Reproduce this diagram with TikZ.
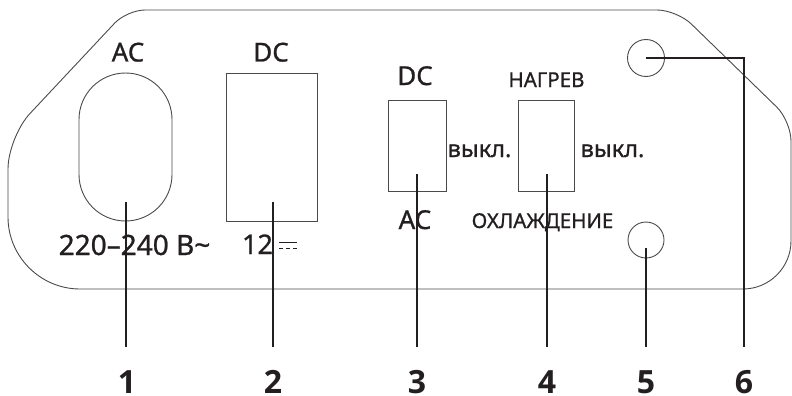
\documentclass[tikz,border=0pt]{standalone}
\usepackage{fontspec}
\setmainfont{Noto Sans}[FakeBold=0.9]
\newfontfamily\numfont{Open Sans}
\definecolor{ink}{HTML}{231F20}
\definecolor{edge}{HTML}{4A4A4A}
\tikzset{
  outline/.style={draw=edge, line width=0.9pt},
  part/.style={draw=edge, line width=0.9pt, inner sep=0pt, fill=none},
  lead/.style={draw=ink, line width=2.6pt},
  lbl/.style={text=ink, inner sep=0pt, anchor=base},
  numlbl/.style={text=ink, inner sep=0pt, anchor=base, font=\numfont\bfseries\fontsize{32}{32}\selectfont},
}
\newcommand{\fs}[1]{\fontsize{#1}{#1}\selectfont}
\begin{document}
\begin{tikzpicture}[x=1pt, y=-1pt]
\useasboundingbox (0,0) rectangle (792,396);
% housing outline
\draw[outline] (145,10) .. controls (135.1,10) and (121.5,15.9) .. (114.7,23.1)
  -- (29.9,113.6) .. controls (17.9,126.5) and (8,151.4) .. (8,169)
  -- (8,217) .. controls (8,256.6) and (40.4,289) .. (80,289)
  -- (743,289) .. controls (769.4,289) and (791,267.4) .. (791,241)
  -- (791,141) .. controls (791,130) and (784.6,114.7) .. (776.7,107)
  -- (691.3,24) .. controls (683.4,16.3) and (668,10) .. (657,10)
  -- cycle;
% parts
\node[part, rounded corners=46.5pt, minimum width=93pt, minimum height=148pt] (ac) at (125.5,147) {};
\node[part, minimum width=91pt, minimum height=148pt] (dc) at (271.5,147) {};
\node[part, minimum width=58pt, minimum height=91pt] (sw1) at (417,145.5) {};
\node[part, minimum width=56pt, minimum height=91pt] (sw2) at (546,145.5) {};
\node[part, circle, minimum size=37pt] (c6) at (646,58) {};
\node[part, circle, minimum size=36pt] (c5) at (646,240) {};
% labels
\node[lbl, font=\fs{26}] (tAC) at (128,61.5) {AC};
\node[lbl, font=\fs{26}] (tDC) at (271,61.5) {DC};
\node[lbl, font=\fs{28}] (tV) at (134.5,255) {220–240 В\char"7E};
\node[lbl, font=\fs{27}] (t12) at (257.5,254) {12};
\draw[ink, line width=1pt] (279,242.5) -- (297,242.5);
\draw[ink, line width=1pt, dash pattern=on 4pt off 3pt] (279,248.5) -- (297,248.5);
\node[lbl, font=\fs{26}] (tDC2) at (415,85) {DC};
\node[lbl, font=\fs{26}] (tAC2) at (415,229) {АС};
\node[lbl, font=\fs{23.5}] (off1) at (479.5,157) {выкл.};
\node[lbl, font=\fs{23.5}] (off2) at (612.5,157) {выкл.};
\node[lbl, font=\fs{20.5}] (heat) at (546.5,87) {НАГРЕВ};
\node[lbl, font=\fs{20.5}] (cool) at (542.5,228) {ОХЛАЖДЕНИЕ};
% numbers
\node[numlbl] (n1) at (127,393.5) {1};
\node[numlbl] (n2) at (273,393.5) {2};
\node[numlbl] (n3) at (417,393.5) {3};
\node[numlbl] (n4) at (547,393.5) {4};
\node[numlbl] (n5) at (646,393.5) {5};
\node[numlbl] (n6) at (744,393.5) {6};
% leader start points
\coordinate (p1) at (126,202);
\coordinate (p2) at (273,202);
\coordinate (p3) at (417,174);
\coordinate (p4) at (547,174);
\coordinate (p5) at (646,248);
\coordinate (k6) at (744,58);
\draw[lead] (p1) -- (p1 |- 0,347);
\draw[lead] (p2) -- (p2 |- 0,347);
\draw[lead] (p3) -- (p3 |- 0,347);
\draw[lead] (p4) -- (p4 |- 0,347);
\draw[lead] (p5) -- (p5 |- 0,347);
\draw[lead] (c6.center) -- (k6) -- (k6 |- 0,347);
\end{tikzpicture}
\end{document}
